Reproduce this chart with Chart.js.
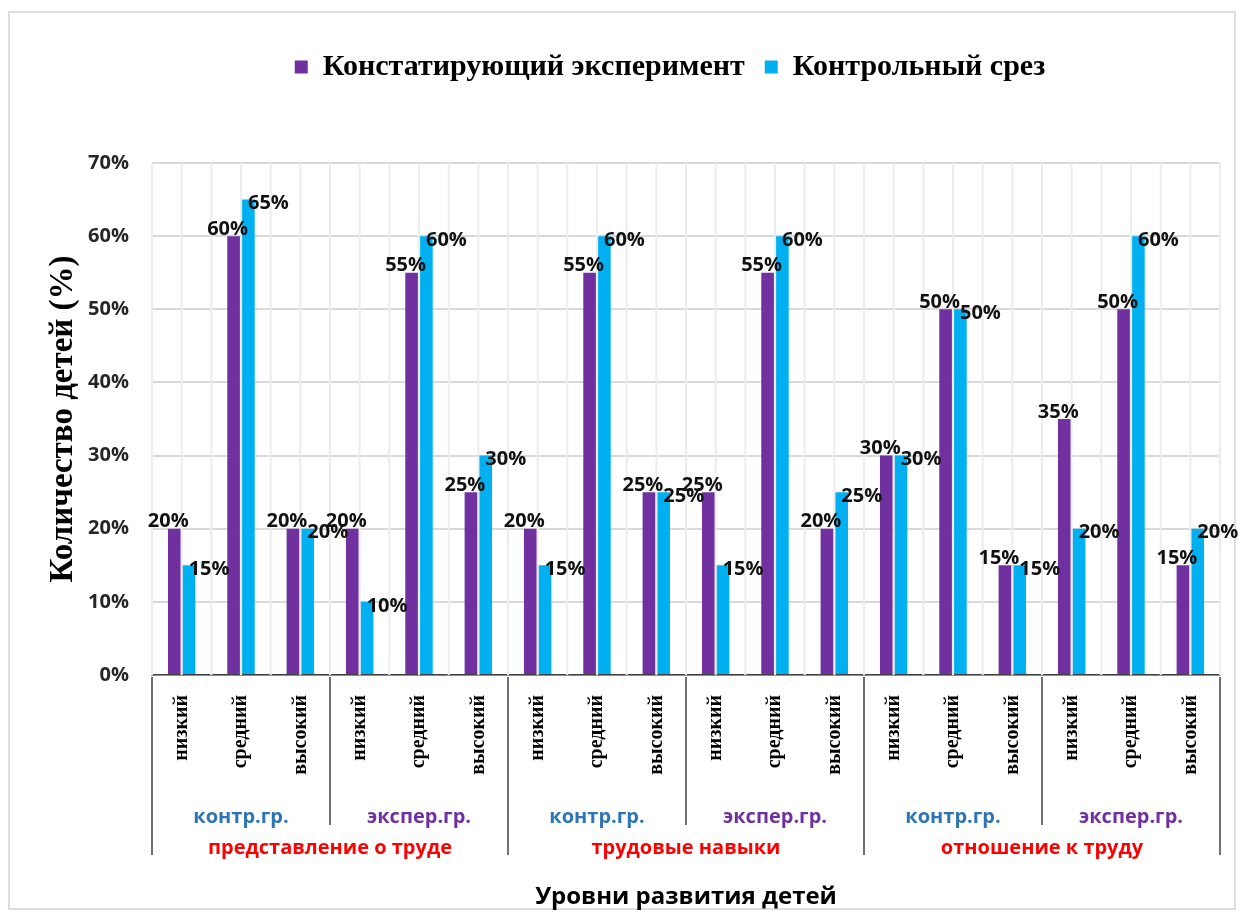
<!DOCTYPE html>
<html>
<head>
<meta charset="utf-8">
<script src="https://cdn.jsdelivr.net/npm/chart.js@4.4.1/dist/chart.umd.min.js"></script>
<style>
  body { margin: 0; background: #fff; }
  #wrap { width: 1243px; height: 914px; }
</style>
</head>
<body>
<div id="wrap"><canvas id="chart" width="1243" height="914"></canvas></div>
<script>
// Данные диаграммы
const categories = [
  'низкий', 'средний', 'высокий', 'низкий', 'средний', 'высокий',
  'низкий', 'средний', 'высокий', 'низкий', 'средний', 'высокий',
  'низкий', 'средний', 'высокий', 'низкий', 'средний', 'высокий'
];
const groupLabels = ['контр.гр.', 'экспер.гр.', 'контр.гр.', 'экспер.гр.', 'контр.гр.', 'экспер.гр.'];
const sectionLabels = ['представление о труде', 'трудовые навыки', 'отношение к труду'];
const seriesNames = ['Констатирующий эксперимент', 'Контрольный срез'];
const constatValues = [20, 60, 20, 20, 55, 25, 20, 55, 25, 25, 55, 20, 30, 50, 15, 35, 50, 15];
const controlValues = [15, 65, 20, 10, 60, 30, 15, 60, 25, 15, 60, 25, 30, 50, 15, 20, 60, 20];

const PURPLE = '#7030A0';
const BLUE = '#00B0F0';

// Рамка и белый фон
const framePlugin = {
  id: 'frame',
  beforeDraw(chart) {
    const c = chart.ctx;
    c.save();
    c.fillStyle = '#fff';
    c.fillRect(0, 0, chart.width, chart.height);
    c.strokeStyle = '#d4d4d4';
    c.lineWidth = 1.5;
    c.strokeRect(9, 12, 1226, 897);
    c.restore();
  }
};

// Вертикальные линии сетки (по краям и серединам категорий)
const vGridPlugin = {
  id: 'vgrid',
  beforeDatasetsDraw(chart) {
    const x = chart.scales.x;
    const area = chart.chartArea;
    const w = x.getPixelForValue(1) - x.getPixelForValue(0);
    const c = chart.ctx;
    c.save();
    c.strokeStyle = '#ececec';
    c.lineWidth = 2;
    const lines = [];
    categories.forEach((_, i) => {
      const p = x.getPixelForValue(i);
      lines.push(p - w / 2, p);
    });
    lines.push(x.getPixelForValue(categories.length - 1) + w / 2);
    lines.forEach(px => {
      c.beginPath();
      c.moveTo(px, area.top);
      c.lineTo(px, area.bottom);
      c.stroke();
    });
    c.restore();
  }
};

// Подписи значений у столбцов
const valueLabelsPlugin = {
  id: 'valueLabels',
  afterDatasetsDraw(chart) {
    const c = chart.ctx;
    c.save();
    c.font = 'bold 20px "Open Sans"';
    c.fillStyle = '#111';
    c.textAlign = 'center';
    c.textBaseline = 'middle';
    chart.data.datasets.forEach((ds, di) => {
      const meta = chart.getDatasetMeta(di);
      meta.data.forEach((bar, i) => {
        const dx = di === 0 ? -6 : 20;
        const dy = di === 0 ? -7 : 4;
        c.fillText(ds.data[i] + '%', bar.x + dx, bar.y + dy);
      });
    });
    c.restore();
  }
};

// Многоуровневые подписи оси X
const groupAxisPlugin = {
  id: 'groupAxis',
  afterDraw(chart) {
    const x = chart.scales.x;
    const bottom = chart.chartArea.bottom;
    const w = x.getPixelForValue(1) - x.getPixelForValue(0);
    const c = chart.ctx;
    c.save();
    // разделители
    c.strokeStyle = '#404040';
    c.lineWidth = 1.5;
    for (let k = 0; k <= groupLabels.length; k++) {
      const px = k < groupLabels.length
        ? x.getPixelForValue(k * 3) - w / 2
        : x.getPixelForValue(categories.length - 1) + w / 2;
      const len = k % 2 === 0 ? 180 : 150;
      c.beginPath();
      c.moveTo(px, bottom + 2);
      c.lineTo(px, bottom + len);
      c.stroke();
    }
    c.textAlign = 'center';
    c.textBaseline = 'middle';
    c.font = 'bold 20px "Open Sans"';
    groupLabels.forEach((g, i) => {
      const cx = (x.getPixelForValue(i * 3) + x.getPixelForValue(i * 3 + 2)) / 2;
      c.fillStyle = i % 2 === 0 ? '#2E75B6' : PURPLE;
      c.fillText(g, cx, bottom + 142);
    });
    c.fillStyle = '#FF0000';
    sectionLabels.forEach((s, i) => {
      const cx = (x.getPixelForValue(i * 6) + x.getPixelForValue(i * 6 + 5)) / 2;
      c.fillText(s, cx, bottom + 173);
    });
    c.restore();
  }
};

// Высота легенды и её сдвиг вправо, как в исходной диаграмме
const legendSpacePlugin = {
  id: 'legendSpace',
  beforeInit(chart) {
    const fit = chart.legend.fit;
    chart.legend.fit = function () {
      fit.call(this);
      this.height = 131;
    };
  },
  afterLayout(chart) {
    chart.legend.left += 38;
    chart.legend.right += 38;
  }
};

new Chart(document.getElementById('chart'), {
  type: 'bar',
  data: {
    labels: categories,
    datasets: [
      {
        label: seriesNames[0],
        data: constatValues,
        backgroundColor: PURPLE,
        categoryPercentage: 0.5,
        barPercentage: 0.85
      },
      {
        label: seriesNames[1],
        data: controlValues,
        backgroundColor: BLUE,
        categoryPercentage: 0.5,
        barPercentage: 0.85
      }
    ]
  },
  options: {
    responsive: false,
    animation: false,
    layout: { padding: { left: 44, right: 23, top: 32, bottom: 0 } },
    plugins: {
      tooltip: { enabled: false },
      legend: {
        position: 'top',
        labels: {
          boxWidth: 13,
          boxHeight: 13,
          padding: 20,
          color: '#000',
          font: { family: 'Liberation Serif', weight: 'bold', size: 30 }
        }
      }
    },
    scales: {
      x: {
        grid: { display: false },
        border: { display: true, color: '#404040', width: 1.5 },
        ticks: {
          autoSkip: false,
          minRotation: 90,
          maxRotation: 90,
          padding: 12,
          color: '#000',
          font: { family: 'Liberation Serif', weight: 'bold', size: 20 }
        },
        title: {
          display: true,
          text: 'Уровни развития детей',
          color: '#000',
          font: { family: 'Open Sans', weight: 'bold', size: 24 },
          padding: { top: 0, bottom: 2 }
        },
        afterFit(scale) { scale.height = 239; }
      },
      y: {
        min: 0,
        max: 70,
        ticks: {
          stepSize: 10,
          padding: 23,
          color: '#262626',
          font: { family: 'Open Sans', weight: 'bold', size: 20 },
          callback: v => v + '%'
        },
        grid: { color: '#d9d9d9', lineWidth: 2, drawTicks: false },
        border: { display: false },
        title: {
          display: true,
          text: 'Количество детей (%)',
          color: '#000',
          font: { family: 'Liberation Serif', weight: 'bold', size: 33 },
          padding: 0
        },
        afterFit(scale) { scale.width = 108; }
      }
    }
  },
  plugins: [framePlugin, legendSpacePlugin, vGridPlugin, valueLabelsPlugin, groupAxisPlugin]
});
</script>
</body>
</html>
